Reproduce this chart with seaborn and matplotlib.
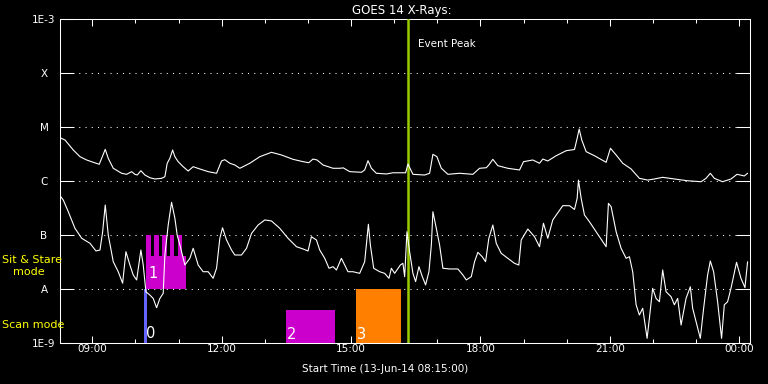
import matplotlib
matplotlib.use("Agg")
import matplotlib.pyplot as plt
import seaborn as sns
import pandas as pd
from matplotlib.ticker import FixedLocator, MultipleLocator, NullLocator

# ---------------- data ----------------
# time in decimal hours of 13-Jun-2014 (24.x = after midnight)
long_hours = [
    8.25, 8.366, 8.558, 8.713, 8.868, 9.021, 9.16, 9.216, 9.299, 9.369,
    9.485, 9.679, 9.795, 9.911, 9.987, 10.04, 10.126, 10.219, 10.335, 10.451,
    10.606, 10.682, 10.736, 10.798, 10.861, 10.914, 10.99, 11.106, 11.222, 11.338,
    11.493, 11.685, 11.88, 11.996, 12.072, 12.188, 12.304, 12.42, 12.651, 12.883,
    13.154, 13.386, 13.654, 13.886, 14.018, 14.117, 14.21, 14.349, 14.581, 14.736,
    14.82, 14.968, 15.239, 15.315, 15.392, 15.471, 15.586, 15.818, 15.971, 16.126,
    16.265, 16.318, 16.434, 16.705, 16.821, 16.897, 16.99, 17.092, 17.245, 17.516,
    17.824, 17.979, 18.134, 18.194, 18.287, 18.403, 18.634, 18.906, 18.998, 19.214,
    19.369, 19.446, 19.561, 19.756, 19.988, 20.18, 20.242, 20.289, 20.349, 20.451,
    20.643, 20.914, 21.014, 21.146, 21.299, 21.493, 21.685, 21.878, 22.033, 22.225,
    22.496, 22.804, 23.115, 23.23, 23.33, 23.423, 23.615, 23.81, 23.949, 24.118,
    24.194,
]
long_flux = [
    6.34e-6, 5.74e-6, 3.75e-6, 2.82e-6, 2.45e-6, 2.22e-6, 2.04e-6, 2.63e-6, 3.86e-6, 2.63e-6,
    1.72e-6, 1.39e-6, 1.33e-6, 1.49e-6, 1.33e-6, 1.29e-6, 1.55e-6, 1.29e-6, 1.15e-6, 1.09e-6,
    1.12e-6, 1.20e-6, 2.13e-6, 2.63e-6, 3.75e-6, 2.82e-6, 2.28e-6, 1.84e-6, 1.53e-6, 1.84e-6,
    1.67e-6, 1.49e-6, 1.39e-6, 2.35e-6, 2.48e-6, 2.13e-6, 1.98e-6, 1.72e-6, 2.13e-6, 2.82e-6,
    3.40e-6, 3.03e-6, 2.52e-6, 2.28e-6, 2.18e-6, 2.55e-6, 2.45e-6, 1.98e-6, 1.72e-6, 1.72e-6,
    1.75e-6, 1.49e-6, 1.45e-6, 1.60e-6, 2.38e-6, 1.72e-6, 1.39e-6, 1.35e-6, 1.42e-6, 1.42e-6,
    1.42e-6, 2.06e-6, 1.33e-6, 1.29e-6, 1.39e-6, 3.12e-6, 2.82e-6, 1.72e-6, 1.33e-6, 1.39e-6,
    1.33e-6, 1.72e-6, 1.76e-6, 1.98e-6, 2.52e-6, 1.92e-6, 1.72e-6, 1.60e-6, 2.28e-6, 2.45e-6,
    2.13e-6, 2.55e-6, 2.35e-6, 2.94e-6, 3.64e-6, 3.83e-6, 6.18e-6, 9.18e-6, 5.74e-6, 3.49e-6,
    2.94e-6, 2.22e-6, 4.03e-6, 3.03e-6, 2.13e-6, 1.67e-6, 1.12e-6, 1.04e-6, 1.09e-6, 1.17e-6,
    1.09e-6, 1.01e-6, 0.97e-6, 1.12e-6, 1.39e-6, 1.12e-6, 0.97e-6, 1.09e-6, 1.33e-6, 1.24e-6,
    1.39e-6,
]

short_hours = [
    8.25, 8.326, 8.442, 8.597, 8.753, 8.945, 9.084, 9.177, 9.239, 9.299,
    9.369, 9.485, 9.6, 9.702, 9.779, 9.871, 9.948, 10.027, 10.126, 10.18,
    10.242, 10.335, 10.411, 10.49, 10.566, 10.643, 10.682, 10.759, 10.837, 10.914,
    10.967, 11.03, 11.146, 11.261, 11.338, 11.454, 11.569, 11.685, 11.801, 11.88,
    11.956, 12.019, 12.112, 12.227, 12.304, 12.459, 12.575, 12.691, 12.843, 12.999,
    13.154, 13.346, 13.538, 13.733, 13.886, 14.002, 14.08, 14.196, 14.273, 14.389,
    14.488, 14.581, 14.66, 14.775, 14.852, 14.928, 15.044, 15.199, 15.315, 15.368,
    15.401, 15.447, 15.524, 15.663, 15.778, 15.878, 15.934, 16.01, 16.142, 16.202,
    16.242, 16.295, 16.357, 16.434, 16.496, 16.573, 16.652, 16.728, 16.805, 16.861,
    16.897, 16.976, 17.052, 17.129, 17.284, 17.476, 17.592, 17.671, 17.787, 17.863,
    17.94, 18.041, 18.118, 18.194, 18.287, 18.366, 18.481, 18.634, 18.789, 18.889,
    18.945, 19.098, 19.253, 19.369, 19.461, 19.561, 19.677, 19.909, 20.064, 20.18,
    20.242, 20.272, 20.335, 20.411, 20.527, 20.682, 20.835, 20.914, 20.967, 21.03,
    21.146, 21.261, 21.377, 21.454, 21.53, 21.609, 21.685, 21.762, 21.864, 21.917,
    21.993, 22.072, 22.149, 22.225, 22.304, 22.42, 22.496, 22.573, 22.652, 22.767,
    22.867, 22.92, 22.999, 23.098, 23.175, 23.267, 23.33, 23.406, 23.499, 23.591,
    23.654, 23.73, 23.809, 23.938, 24.04, 24.133, 24.194,
]
short_flux = [
    5.35e-7, 4.45e-7, 2.70e-7, 1.33e-7, 8.69e-8, 7.02e-8, 5.06e-8, 5.27e-8, 1.15e-7, 3.59e-7,
    1.0e-7, 3.20e-8, 2.09e-8, 1.28e-8, 4.91e-8, 2.78e-8, 1.82e-8, 1.47e-8, 5.27e-8, 2.78e-8,
    8.9e-9, 7.7e-9, 6.7e-9, 4.5e-9, 6.7e-9, 8.3e-9, 4.26e-8, 1.53e-7, 4.03e-7, 2.04e-7,
    1.0e-7, 6.53e-8, 2.78e-8, 3.70e-8, 5.67e-8, 2.78e-8, 2.09e-8, 2.09e-8, 1.58e-8, 2.42e-8,
    8.69e-8, 1.36e-7, 8.08e-8, 5.27e-8, 4.26e-8, 4.26e-8, 5.67e-8, 1.07e-7, 1.53e-7, 1.90e-7,
    1.82e-7, 1.33e-7, 8.69e-8, 6.07e-8, 5.51e-8, 5.06e-8, 9.30e-8, 8.08e-8, 5.27e-8, 3.70e-8,
    2.42e-8, 2.59e-8, 2.25e-8, 3.70e-8, 2.78e-8, 2.09e-8, 2.09e-8, 1.95e-8, 3.20e-8, 8.69e-8,
    1.58e-7, 6.53e-8, 2.42e-8, 2.09e-8, 1.95e-8, 1.58e-8, 2.42e-8, 1.95e-8, 2.78e-8, 2.99e-8,
    1.69e-8, 1.15e-7, 4.91e-8, 1.95e-8, 1.37e-8, 2.59e-8, 1.69e-8, 1.19e-8, 2.09e-8, 6.53e-8,
    2.70e-7, 1.33e-7, 6.53e-8, 2.42e-8, 2.35e-8, 2.35e-8, 1.82e-8, 1.47e-8, 1.69e-8, 3.20e-8,
    4.78e-8, 3.96e-8, 3.20e-8, 8.69e-8, 1.53e-7, 7.02e-8, 4.58e-8, 3.70e-8, 2.99e-8, 2.78e-8,
    8.08e-8, 1.29e-7, 9.30e-8, 6.07e-8, 1.65e-7, 8.69e-8, 1.90e-7, 3.49e-7, 3.49e-7, 2.97e-7,
    4.78e-7, 1.04e-6, 4.78e-7, 2.35e-7, 1.76e-7, 1.15e-7, 7.52e-8, 6.07e-8, 3.86e-7, 3.34e-7,
    1.15e-7, 5.67e-8, 3.70e-8, 3.96e-8, 2.09e-8, 5.1e-9, 3.3e-9, 4.4e-9, 1.22e-9, 2.86e-9,
    1.03e-8, 6.7e-9, 5.8e-9, 2.25e-8, 8.9e-9, 7.2e-9, 5.1e-9, 6.7e-9, 2.15e-9, 6.7e-9,
    1.10e-8, 4.4e-9, 2.48e-9, 1.22e-9, 4.4e-9, 1.82e-8, 3.30e-8, 2.09e-8, 5.8e-9, 1.22e-9,
    5.1e-9, 5.8e-9, 1.03e-8, 3.12e-8, 1.58e-8, 1.06e-8, 3.20e-8,
]

# observation blocks
obs_labels = ["0", "1", "2", "3"]
obs_start = [10.196, 10.242, 13.485, 15.107]
obs_end = [10.265, 11.169, 14.62, 16.149]
obs_low = [1e-9, 1e-8, 1e-9, 1e-9]
obs_high = [1e-8, 4.08e-8, 4.08e-9, 1e-8]
obs_colors = ["#6464ff", "#cc00cc", "#cc00cc", "#ff8000"]

# comb teeth of block 1
teeth_start = [10.242, 10.427, 10.613, 10.798, 10.983]
teeth_end = [10.351, 10.536, 10.722, 10.891, 11.076]
teeth_low = [1e-8, 1e-8, 1e-8, 1e-8, 1e-8]
teeth_high = [1e-7, 1e-7, 1e-7, 1e-7, 1e-7]

event_peak_hour = 16.31

flux_ticks = [1e-9, 1e-8, 1e-7, 1e-6, 1e-5, 1e-4, 1e-3]
flux_labels = ["1E-9", "A", "B", "C", "M", "X", "1E-3"]
time_ticks = [9, 12, 15, 18, 21, 24]
time_labels = ["09:00", "12:00", "15:00", "18:00", "21:00", "00:00"]

# ---------------- style ----------------
sns.set_style("ticks")
plt.rcParams.update({
    "font.family": ["DejaVu Sans"],
    "figure.facecolor": "black",
    "axes.facecolor": "black",
    "axes.edgecolor": "white",
    "text.color": "white",
    "xtick.color": "white",
    "ytick.color": "white",
    "axes.linewidth": 0.75,
})

fig = plt.figure(figsize=(7.68, 3.84), dpi=100, facecolor="black")
ax = fig.add_axes([60 / 768, 41 / 384, 690 / 768, 324 / 384], facecolor="black")

# observation blocks
ax.bar(obs_start, [h - l for h, l in zip(obs_high, obs_low)],
       width=[e - s for e, s in zip(obs_end, obs_start)], bottom=obs_low,
       align="edge", color=obs_colors, linewidth=0, zorder=3)
ax.bar(teeth_start, [h - l for h, l in zip(teeth_high, teeth_low)],
       width=[e - s for e, s in zip(teeth_end, teeth_start)], bottom=teeth_low,
       align="edge", color="#cc00cc", linewidth=0, zorder=3)

label_offsets = [(2, 5), (3, 11), (1, 4), (1, 4)]
for lbl, s, lo, off in zip(obs_labels, obs_start, obs_low, label_offsets):
    ax.annotate(lbl, xy=(s, lo), xytext=off, textcoords="offset pixels",
                color="white", fontsize=10.5, ha="left", va="baseline", zorder=6)

# event peak
ax.axvline(event_peak_hour, color="#99cc00", linewidth=1.8, zorder=4)
ax.annotate("Event Peak", xy=(event_peak_hour, 1.0), xycoords=("data", "axes fraction"),
            xytext=(10, -28), textcoords="offset pixels", color="white",
            fontsize=7.5, ha="left", va="baseline")

# x-ray curves
df_long = pd.DataFrame({"hour": long_hours, "flux": long_flux})
df_short = pd.DataFrame({"hour": short_hours, "flux": short_flux})
sns.lineplot(data=df_long, x="hour", y="flux", ax=ax, color="white", linewidth=0.8,
             estimator=None, sort=False, zorder=5)
sns.lineplot(data=df_short, x="hour", y="flux", ax=ax, color="white", linewidth=0.8,
             estimator=None, sort=False, zorder=5)

ax.set_yscale("log")
ax.set_ylim(1e-9, 1e-3)
ax.set_xlim(8.25, 24.25)
ax.set_xlabel("")
ax.set_ylabel("")

ax.yaxis.set_major_locator(FixedLocator(flux_ticks))
ax.set_yticklabels(flux_labels)
ax.yaxis.set_minor_locator(NullLocator())
ax.tick_params(axis="y", which="major", direction="in", length=10, width=0.75,
               left=True, right=True, labelsize=7.5, pad=11.5, colors="white")
for t in ax.get_yticklabels():
    t.set_ha("center")

ax.xaxis.set_major_locator(FixedLocator(time_ticks))
ax.set_xticklabels(time_labels)
ax.xaxis.set_minor_locator(MultipleLocator(1))
ax.tick_params(axis="x", which="major", direction="in", length=5, width=0.75,
               top=True, bottom=True, labelsize=7.5, pad=1, colors="white")
ax.tick_params(axis="x", which="minor", direction="in", length=3, width=0.75,
               top=True, bottom=True, colors="white")

ax.grid(False)
ax.grid(axis="y", which="major", color="white", linestyle=(0, (1, 5)), linewidth=0.75)
ax.set_axisbelow(True)
for sp in ax.spines.values():
    sp.set_visible(True)
    sp.set_color("white")
    sp.set_linewidth(0.75)

fig.text(402 / 768, 1 - 14 / 384, "GOES 14 X-Rays:", ha="center", va="baseline",
         color="white", fontsize=8.5)
fig.text(385 / 768, 1 - 372 / 384, "Start Time (13-Jun-14 08:15:00)", ha="center",
         va="baseline", color="white", fontsize=7.5)
fig.text(2 / 768, 1 - 263 / 384, "Sit & Stare", ha="left", va="baseline",
         color="#ffff00", fontsize=8)
fig.text(13 / 768, 1 - 275 / 384, "mode", ha="left", va="baseline",
         color="#ffff00", fontsize=8)
fig.text(2 / 768, 1 - 328 / 384, "Scan mode", ha="left", va="baseline",
         color="#ffff00", fontsize=8)

fig.savefig("out.png", dpi=100, facecolor="black")
